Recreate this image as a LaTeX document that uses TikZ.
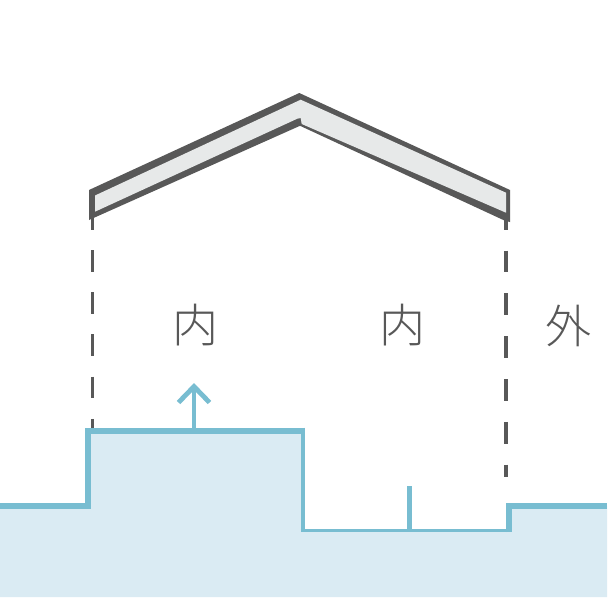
\documentclass[tikz,border=0pt]{standalone}
\usepackage{fontspec}
\newfontfamily\cjk{Noto Sans CJK JP Light}
\definecolor{roofdark}{HTML}{585858}
\definecolor{rooflight}{HTML}{E7E9E9}
\definecolor{groundfill}{HTML}{DAEBF3}
\definecolor{groundline}{HTML}{78BDD1}
\tikzset{
  wallleft/.style={draw=roofdark,line width=3.5pt,dash pattern=on 21.8pt off 20.4pt},
  wallright/.style={draw=roofdark,line width=3.5pt,dash pattern=on 21.7pt off 21.1pt},
  ground/.style={draw=groundline,line cap=butt,line join=miter},
  label/.style={font=\cjk\fontsize{46}{46}\selectfont,text=roofdark,inner sep=0pt},
}
\begin{document}
\begin{tikzpicture}[x=1pt,y=-1pt]
\useasboundingbox (0,0) rectangle (609,597);
% ground
\fill[groundfill] (0,506) -- (88,506) -- (88,431) -- (303,431) -- (303,531) -- (509,531) -- (509,506) -- (607,506) -- (607,597) -- (0,597) -- cycle;
\coordinate (lt) at (92.3,207.8);
\coordinate (lb) at (92.3,431);
\coordinate (rt) at (505.8,207.8);
\coordinate (rb) at (505.8,476.7);
\draw[wallleft] (lt) -- (lb);
\draw[wallright] (rt) -- (rb);
% roof
\fill[roofdark] (89,190) -- (299.3,93) -- (510,190) -- (510,222) -- (505.5,221) -- (300,125.8) -- (89,220) -- cycle;
\fill[rooflight] (95,195.5) -- (300.7,99.7) -- (506,192.7) -- (506,212.7) -- (301.7,124) -- (300.7,118) -- (297.3,118.7) -- (95,211.7) -- cycle;
% ground lines
\draw[ground,line width=6pt] (0,506) -- (88,506) -- (88,430.5);
\draw[ground,line width=6pt] (85,430.5) -- (303,430.5);
\draw[ground,line width=4.8pt] (303,427.5) -- (303,532);
\draw[ground,line width=3pt] (300.6,530.7) -- (512,530.7);
\draw[ground,line width=6pt] (509,532.2) -- (509,506) -- (607,506);
\coordinate (tick) at (409,486);
\coordinate (tickb) at (409,531);
\draw[ground,line width=5pt] (tick) -- (tickb);
\coordinate (arrowb) at (194,430);
\coordinate (arrowt) at (194,386.5);
\draw[ground,line width=4.8pt] (arrowb) -- (arrowt);
\draw[ground,line width=4.8pt] (178.5,402.5) -- (arrowt) -- (209.5,402.5);
% labels
\node[label] (in1) at (195,325) {内};
\node[label] (in2) at (402,325) {内};
\node[label] (out) at (568,326) {外};
\end{tikzpicture}
\end{document}
